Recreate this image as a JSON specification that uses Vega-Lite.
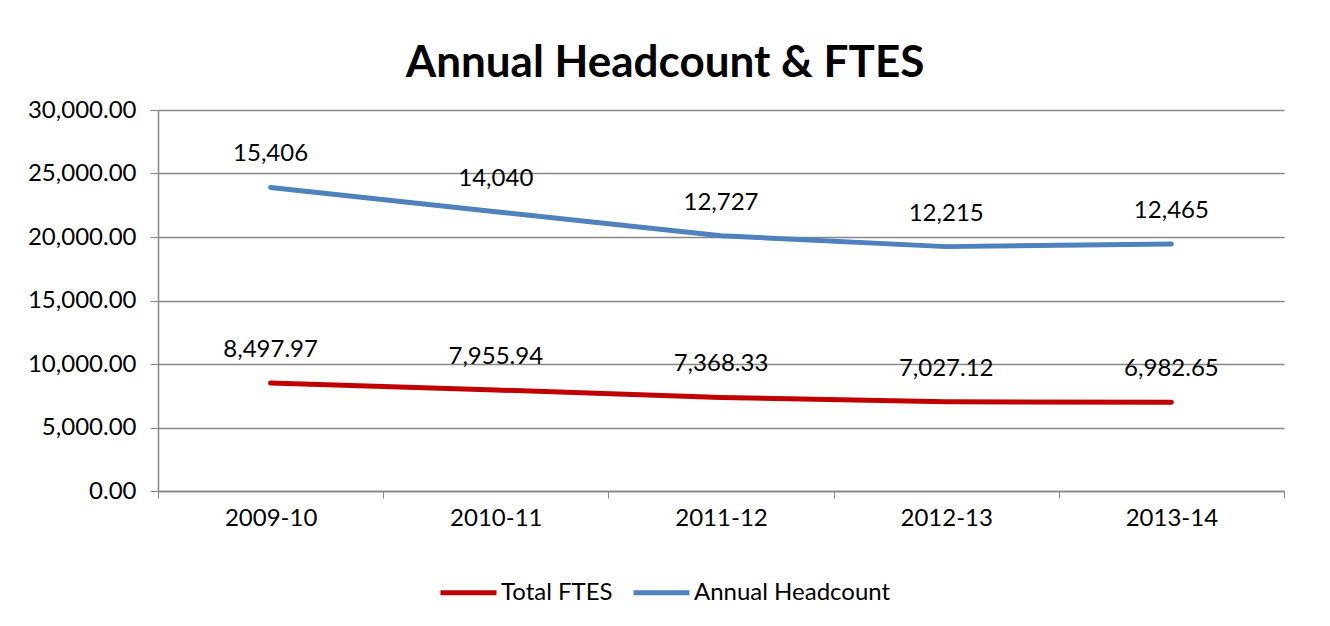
{
  "$schema": "https://vega.github.io/schema/vega-lite/v6.json",
  "autosize": {"type": "none"},
  "width": 1126,
  "height": 381,
  "padding": {"left": 158, "top": 110, "right": 46, "bottom": 135},
  "background": "white",
  "config": {
    "font": "Lato",
    "view": {"stroke": null},
    "axis": {"labelFont": "Lato", "labelFontSize": 24, "labelColor": "#000000", "domainColor": "#868686", "tickColor": "#868686", "gridColor": "#868686", "title": null}
  },
  "title": {
    "text": "Annual Headcount & FTES",
    "font": "Lato",
    "fontSize": 44,
    "fontWeight": "bold",
    "color": "#000000",
    "anchor": "middle",
    "frame": "group",
    "dx": -56,
    "dy": 43,
    "baseline": "alphabetic",
    "offset": 20
  },
  "data": {
    "values": [
      {"year": "2009-10", "series": "Total FTES", "value": 8497.97},
      {"year": "2010-11", "series": "Total FTES", "value": 7955.94},
      {"year": "2011-12", "series": "Total FTES", "value": 7368.33},
      {"year": "2012-13", "series": "Total FTES", "value": 7027.12},
      {"year": "2013-14", "series": "Total FTES", "value": 6982.65},
      {"year": "2009-10", "series": "Annual Headcount", "value": 15406},
      {"year": "2010-11", "series": "Annual Headcount", "value": 14040},
      {"year": "2011-12", "series": "Annual Headcount", "value": 12727},
      {"year": "2012-13", "series": "Annual Headcount", "value": 12215},
      {"year": "2013-14", "series": "Annual Headcount", "value": 12465}
    ]
  },
  "transform": [
    {"stack": "value", "groupby": ["year"], "sort": [{"field": "series", "order": "descending"}], "as": ["v0", "v1"]}
  ],
  "encoding": {
    "x": {
      "field": "year", "type": "ordinal",
      "scale": {"type": "band", "paddingInner": 0, "paddingOuter": 0},
      "axis": {"tickBand": "extent", "tickSize": 7, "labelAngle": 0, "labelPadding": 8, "grid": false, "domainWidth": 1.5}
    },
    "y": {
      "field": "v1", "type": "quantitative", "stack": null,
      "scale": {"domain": [0, 30000], "nice": false},
      "axis": {"values": [0, 5000, 10000, 15000, 20000, 25000, 30000], "format": ",.2f", "tickSize": 8, "labelPadding": 14, "grid": true, "gridWidth": 1.5, "domainWidth": 1.5}
    }
  },
  "layer": [
    {
      "mark": {"type": "line", "strokeWidth": 5, "strokeCap": "round", "strokeJoin": "round"},
      "encoding": {
        "color": {
          "field": "series", "type": "nominal",
          "scale": {"domain": ["Total FTES", "Annual Headcount"], "range": ["#C00000", "#4F81BD"]},
          "legend": {
            "orient": "none", "legendX": 280, "legendY": 452, "direction": "horizontal",
            "title": null, "symbolType": "stroke", "symbolSize": 3136, "symbolStrokeWidth": 5,
            "labelFont": "Lato", "labelFontSize": 24, "labelColor": "#000000", "labelOffset": 2,
            "columnPadding": 10, "padding": 0, "labelLimit": 400
          }
        }
      }
    },
    {
      "transform": [{"filter": "datum.series === 'Total FTES'"}],
      "mark": {"type": "text", "fontSize": 24, "font": "Lato", "color": "#000000", "baseline": "middle", "dy": -33},
      "encoding": {"text": {"field": "value", "type": "quantitative", "format": ",.2f"}}
    },
    {
      "transform": [{"filter": "datum.series === 'Annual Headcount'"}],
      "mark": {"type": "text", "fontSize": 24, "font": "Lato", "color": "#000000", "baseline": "middle", "dy": -33},
      "encoding": {"text": {"field": "value", "type": "quantitative", "format": ",d"}}
    }
  ]
}
